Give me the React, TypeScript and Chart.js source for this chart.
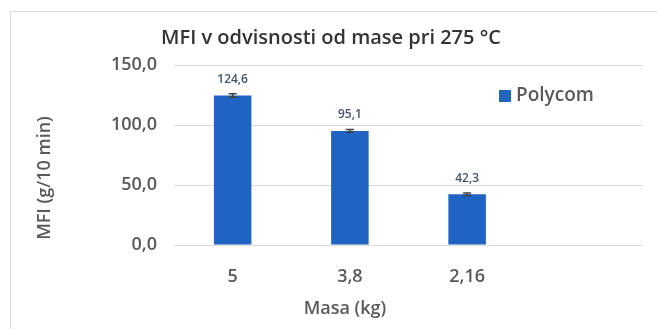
import React, { useEffect, useRef } from "react";
import { Chart, registerables } from "chart.js";

Chart.register(...registerables);

const categories = ["5", "3,8", "2,16", ""];
const values: (number | null)[] = [124.6, 95.1, 42.3, null];
const errors: (number | null)[] = [1.5, 1.2, 1.0, null];
const yTicks = [0, 50, 100, 150];
const seriesName = "Polycom";
const chartTitle = "MFI v odvisnosti od mase pri 275 °C";
const xTitle = "Masa (kg)";
const yTitle = "MFI (g/10 min)";

const FONT = "'Open Sans', sans-serif";
const BAR = "#1f64c2";
const TEXT = "#595959";

const fmt = (v: number) => v.toFixed(1).replace(".", ",");

const decor = {
  id: "decor",
  beforeDraw(chart: any) {
    const ctx = chart.ctx;
    ctx.save();
    ctx.fillStyle = "#ffffff";
    ctx.fillRect(0, 0, chart.width, chart.height);
    ctx.strokeStyle = "#d9d9d9";
    ctx.lineWidth = 1;
    ctx.strokeRect(10.5, 11.5, chart.width + 40, chart.height + 40);
    ctx.restore();
  },
  afterDatasetsDraw(chart: any) {
    const ctx = chart.ctx;
    const meta = chart.getDatasetMeta(0);
    const y = chart.scales.y;
    ctx.save();
    meta.data.forEach((bar: any, i: number) => {
      const v = values[i];
      const e = errors[i];
      if (v == null) return;
      if (e != null) {
        const yt = y.getPixelForValue(v + e);
        const yb = y.getPixelForValue(v - e);
        ctx.strokeStyle = "#404040";
        ctx.lineWidth = 1.5;
        ctx.beginPath();
        ctx.moveTo(bar.x, yt);
        ctx.lineTo(bar.x, yb);
        ctx.moveTo(bar.x - 4, yt);
        ctx.lineTo(bar.x + 4, yt);
        ctx.moveTo(bar.x - 4, yb);
        ctx.lineTo(bar.x + 4, yb);
        ctx.stroke();
      }
      ctx.fillStyle = "#44546a";
      ctx.font = `600 12px ${FONT}`;
      ctx.textAlign = "center";
      ctx.textBaseline = "middle";
      ctx.fillText(fmt(v), bar.x, y.getPixelForValue(v) - 16);
    });
    ctx.restore();
  },
  afterDraw(chart: any) {
    const ctx = chart.ctx;
    ctx.save();
    ctx.fillStyle = "#333333";
    ctx.font = `600 20px ${FONT}`;
    ctx.textAlign = "center";
    ctx.textBaseline = "middle";
    ctx.fillText(chartTitle, 331, 38);
    ctx.fillStyle = TEXT;
    ctx.font = `600 18px ${FONT}`;
    ctx.fillText(xTitle, 345, 309);
    ctx.save();
    ctx.translate(45, 178);
    ctx.rotate(-Math.PI / 2);
    ctx.fillText(yTitle, 0, 0);
    ctx.restore();
    ctx.fillStyle = BAR;
    ctx.fillRect(499, 90, 12, 12);
    ctx.fillStyle = TEXT;
    ctx.font = `600 19px ${FONT}`;
    ctx.textAlign = "left";
    ctx.fillText(seriesName, 516, 96);
    ctx.restore();
  },
};

export default function App() {
  const ref = useRef<HTMLCanvasElement>(null);
  useEffect(() => {
    document.body.style.margin = "0";
    const chart = new Chart(ref.current!, {
      type: "bar",
      data: {
        labels: categories,
        datasets: [
          {
            label: seriesName,
            data: values,
            backgroundColor: BAR,
            barPercentage: 0.32,
            categoryPercentage: 1,
          },
        ],
      },
      options: {
        responsive: false,
        animation: false,
        layout: { padding: { left: 0, top: 65, right: 14, bottom: 0 } },
        plugins: { legend: { display: false }, tooltip: { enabled: false } },
        scales: {
          x: {
            grid: { display: false },
            border: { display: false },
            ticks: {
              color: TEXT,
              font: { family: FONT, size: 18, weight: "600" },
              padding: 13,
            },
            afterFit: (s: any) => {
              s.height = 84;
            },
          },
          y: {
            min: 0,
            max: 150,
            afterBuildTicks: (s: any) => {
              s.ticks = yTicks.map((v) => ({ value: v }));
            },
            grid: { color: "#d9d9d9", lineWidth: 1, drawTicks: false },
            border: { display: false },
            ticks: {
              color: TEXT,
              font: { family: FONT, size: 18, weight: "600" },
              padding: 17,
              callback: (v: any) => fmt(Number(v)),
            },
            afterFit: (s: any) => {
              s.width = 174;
            },
          },
        },
      },
      plugins: [decor],
    });
    return () => chart.destroy();
  }, []);
  return <canvas ref={ref} width={657} height={329} />;
}
